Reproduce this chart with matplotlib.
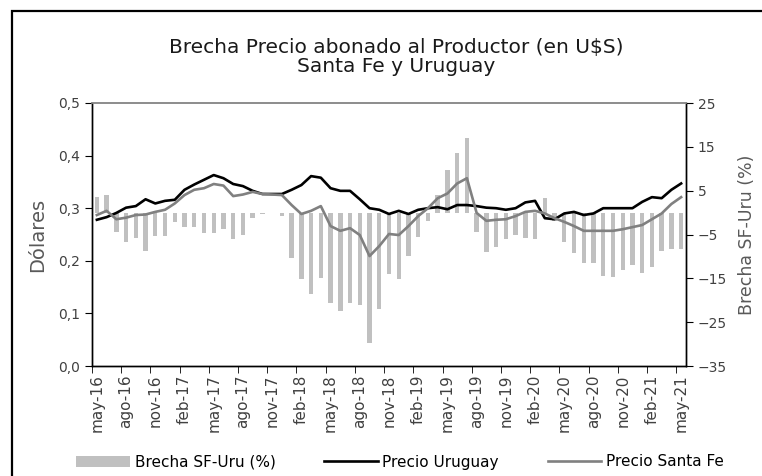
import numpy as np
import matplotlib
matplotlib.use("Agg")
import matplotlib.pyplot as plt
from matplotlib.lines import Line2D
from matplotlib.ticker import FixedLocator

plt.rcParams['font.family'] = ['DejaVu Sans']

# monthly data, may-16 .. may-21
brecha = [3.5, 4.0, -4.4, -6.6, -5.7, -8.7, -5.3, -5.3, -2.1, -3.2,
          -3.4, -4.6, -4.6, -3.7, -6.1, -5.0, -1.2, -0.3, -0.1, -0.8,
          -10.4, -15.2, -18.5, -14.9, -20.7, -22.5, -20.7, -21.1, -29.8, -21.9,
          -14.0, -15.1, -9.8, -5.5, -2.0, 4.0, 9.7, 13.5, 17.0, -4.4,
          -8.9, -7.8, -6.0, -5.1, -5.8, -6.0, 3.3, -2.0, -6.6, -9.3,
          -11.4, -11.6, -14.5, -14.6, -13.1, -12.0, -13.7, -12.5, -8.8, -8.2,
          -8.2]
uruguay = [0.278, 0.283, 0.291, 0.301, 0.304, 0.317, 0.309, 0.314, 0.316, 0.335,
           0.345, 0.354, 0.363, 0.357, 0.346, 0.342, 0.333, 0.327, 0.327, 0.327,
           0.335, 0.344, 0.361, 0.358, 0.338, 0.333, 0.333, 0.317, 0.300, 0.297,
           0.289, 0.295, 0.289, 0.297, 0.300, 0.302, 0.298, 0.306, 0.306, 0.304,
           0.301, 0.300, 0.297, 0.300, 0.311, 0.314, 0.281, 0.279, 0.290, 0.293,
           0.287, 0.290, 0.300, 0.300, 0.300, 0.300, 0.312, 0.321, 0.319, 0.335,
           0.347]
santafe = [0.287, 0.295, 0.279, 0.282, 0.287, 0.288, 0.293, 0.297, 0.309, 0.325,
           0.335, 0.338, 0.346, 0.343, 0.323, 0.326, 0.331, 0.327, 0.326, 0.325,
           0.306, 0.289, 0.295, 0.304, 0.266, 0.257, 0.262, 0.249, 0.209, 0.228,
           0.251, 0.249, 0.266, 0.285, 0.300, 0.319, 0.328, 0.347, 0.357, 0.291,
           0.276, 0.278, 0.279, 0.285, 0.293, 0.295, 0.290, 0.281, 0.274, 0.266,
           0.257, 0.257, 0.257, 0.257, 0.260, 0.264, 0.268, 0.279, 0.290, 0.308,
           0.321]
month_labels = ["may-16", "ago-16", "nov-16", "feb-17", "may-17", "ago-17", "nov-17",
                "feb-18", "may-18", "ago-18", "nov-18", "feb-19", "may-19", "ago-19",
                "nov-19", "feb-20", "may-20", "ago-20", "nov-20", "feb-21", "may-21"]
left_ticks = [0.0, 0.1, 0.2, 0.3, 0.4, 0.5]
left_labels = ["0,0", "0,1", "0,2", "0,3", "0,4", "0,5"]
right_ticks = [-35, -25, -15, -5, 5, 15, 25]

n = len(brecha)
x = np.arange(n)

fig = plt.figure(figsize=(7.62, 4.76), dpi=100)
ax = fig.add_axes([92 / 762, 1 - 366 / 476, 594 / 762, 263 / 476])
ax2 = ax.twinx()

bars = ax2.bar(x, brecha, width=0.45, color='#c0c0c0', label='Brecha SF-Uru (%)')
l1, = ax.plot(x, uruguay, color='black', lw=1.9, label='Precio Uruguay')
l2, = ax.plot(x, santafe, color='#808080', lw=1.9, label='Precio Santa Fe')

# lines above the bars
ax.set_zorder(ax2.get_zorder() + 1)
ax.patch.set_visible(False)

ax.set_xlim(-0.5, n - 0.5)
ax.set_ylim(0, 0.5)
ax2.set_ylim(-35, 25)

ax.set_yticks(left_ticks)
ax.set_yticklabels(left_labels)
ax2.set_yticks(right_ticks)

ax.set_xticks(np.arange(0, n, 3))
ax.set_xticklabels(month_labels, rotation=90)
ax.xaxis.set_minor_locator(FixedLocator(np.arange(-0.5, n, 3)))
ax.tick_params(axis='x', which='major', length=0, pad=6, labelsize=11, colors='#404040')
ax.tick_params(axis='x', which='minor', length=5, direction='out')
ax.tick_params(axis='y', length=5, labelsize=10, colors='#404040')
ax2.tick_params(axis='y', length=5, labelsize=10, colors='#404040')
for a in (ax, ax2):
    a.tick_params(axis='both', which='both', color='black')
    for s in ('left', 'right', 'bottom'):
        a.spines[s].set_color('black')
        a.spines[s].set_linewidth(1.0)
    a.spines['top'].set_color('#8c8c8c')
    a.spines['top'].set_linewidth(1.2)

ax.set_ylabel('Dólares', fontsize=14, color='#595959', labelpad=8)
ax2.set_ylabel('Brecha SF-Uru (%)', fontsize=12.5, color='#595959', labelpad=8)

fig.text(0.52, 1 - 57 / 476, 'Brecha Precio abonado al Productor (en U$S)\nSanta Fe y Uruguay',
         ha='center', va='center', fontsize=14.5, color='#1a1a1a', linespacing=1.05)

fig.legend([bars, l1, l2], ['Brecha SF-Uru (%)', 'Precio Uruguay', 'Precio Santa Fe'],
           loc='center', bbox_to_anchor=(0.525, 1 - 462 / 476), ncol=3, frameon=False,
           fontsize=11, handlelength=3.5, columnspacing=3.2, handletextpad=0.3)

# outer frame: only its left and top edges fall inside the picture
frame_x = 12 / 762
frame_top = 1 - 11 / 476
fig.add_artist(Line2D([frame_x, frame_x, 1.0], [0.0, frame_top, frame_top],
                      transform=fig.transFigure, color='black', lw=1.6,
                      solid_joinstyle='miter'))

fig.savefig('out.png', dpi=100)
